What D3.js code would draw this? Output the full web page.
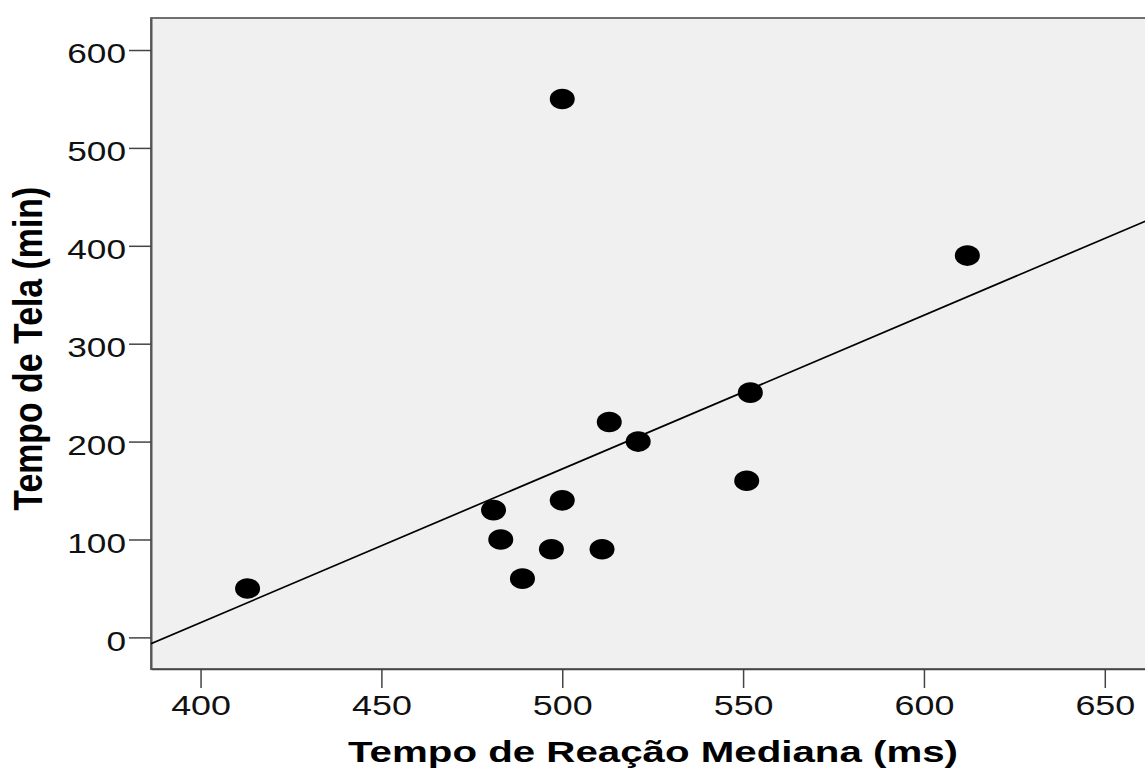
<!DOCTYPE html>
<html>
<head>
<meta charset="utf-8">
<script src="https://cdn.jsdelivr.net/npm/d3@7"></script>
<style>
  html, body { margin: 0; padding: 0; background: #ffffff; }
  svg { display: block; }
</style>
</head>
<body>
<svg id="chart" width="1145" height="769"></svg>
<script>
// ---- data ----
const reactionTime = [413, 500, 612, 513, 521, 481, 500, 483, 497, 511, 489, 552, 551];
const screenTime   = [ 50, 550, 390, 220, 200, 130, 140, 100,  90,  90,  60, 250, 160];
const xTickValues = [400, 450, 500, 550, 600, 650];
const yTickValues = [0, 100, 200, 300, 400, 500, 600];
const xTitle = "Tempo de Reação Mediana (ms)";
const yTitle = "Tempo de Tela (min)";
const xDomain = [386.3, 662.5];
const yDomain = [-32.3, 632.7];

// ---- layout ----
const svg = d3.select("#chart");
const plot = { left: 151, right: 1150, top: 18, bottom: 669 };
const x = d3.scaleLinear().domain(xDomain).range([plot.left, plot.right]);
const y = d3.scaleLinear().domain(yDomain).range([plot.bottom, plot.top]);
const fontFamily = "'Liberation Sans', Arial, Helvetica, sans-serif";

svg.append("defs").append("clipPath").attr("id", "clip")
  .append("rect")
  .attr("x", plot.left).attr("y", plot.top)
  .attr("width", plot.right - plot.left).attr("height", plot.bottom - plot.top);

// plot background
svg.append("rect")
  .attr("x", plot.left).attr("y", plot.top)
  .attr("width", plot.right - plot.left).attr("height", plot.bottom - plot.top)
  .attr("fill", "#f0f0f0")
  .attr("stroke", "#6f6f6f")
  .attr("stroke-width", 2);

// stretch helper for text (reference glyphs are wide)
function stretch(sel, factor) {
  sel.each(function () {
    const w = this.getComputedTextLength();
    d3.select(this).attr("textLength", w * factor).attr("lengthAdjust", "spacingAndGlyphs");
  });
}

// x axis
const xAxis = svg.append("g")
  .attr("transform", `translate(0,${plot.bottom})`)
  .call(d3.axisBottom(x).tickValues(xTickValues).tickSize(19).tickPadding(8).tickSizeOuter(0).tickFormat(d3.format("d")));
xAxis.select(".domain").attr("stroke", "#444").attr("stroke-width", 1.5);
xAxis.selectAll(".tick line").attr("stroke", "#444").attr("stroke-width", 1.5);
xAxis.selectAll(".tick text")
  .attr("font-family", fontFamily).attr("font-size", 28).attr("fill", "#111")
  .attr("dy", null).attr("y", 46);
stretch(xAxis.selectAll(".tick text"), 1.28);

// y axis
const yAxis = svg.append("g")
  .attr("transform", `translate(${plot.left},0)`)
  .call(d3.axisLeft(y).tickValues(yTickValues).tickSize(22).tickPadding(3).tickSizeOuter(0).tickFormat(d3.format("d")));
yAxis.select(".domain").attr("stroke", "#555").attr("stroke-width", 2);
yAxis.selectAll(".tick line").attr("stroke", "#444").attr("stroke-width", 1.5);
yAxis.selectAll(".tick text")
  .attr("font-family", fontFamily).attr("font-size", 27.5).attr("fill", "#111")
  .attr("dy", null).attr("y", 12.7);
stretch(yAxis.selectAll(".tick text"), 1.28);

// regression line (least squares fit of the points)
const mx = d3.mean(reactionTime), my = d3.mean(screenTime);
const sxy = d3.sum(reactionTime, (v, i) => (v - mx) * (screenTime[i] - my));
const sxx = d3.sum(reactionTime, v => (v - mx) * (v - mx));
const slope = sxy / sxx;
const intercept = my - slope * mx;
const fitPts = xDomain.map(v => [v, intercept + slope * v]);
svg.append("path")
  .attr("clip-path", "url(#clip)")
  .attr("d", d3.line().x(d => x(d[0])).y(d => y(d[1]))(fitPts))
  .attr("fill", "none")
  .attr("stroke", "#000")
  .attr("stroke-width", 1.7);

// points
svg.append("g").attr("clip-path", "url(#clip)")
  .selectAll("ellipse")
  .data(reactionTime.map((v, i) => ({ x: v, y: screenTime[i] })))
  .join("ellipse")
  .attr("cx", d => x(d.x))
  .attr("cy", d => y(d.y))
  .attr("rx", 12.5)
  .attr("ry", 10.3)
  .attr("fill", "#000");

// axis titles
svg.append("text")
  .attr("x", 653).attr("y", 762)
  .attr("text-anchor", "middle")
  .attr("font-family", fontFamily).attr("font-weight", "bold").attr("font-size", 30)
  .attr("fill", "#000")
  .attr("textLength", 610).attr("lengthAdjust", "spacingAndGlyphs")
  .text(xTitle);

svg.append("text")
  .attr("transform", "translate(42,348.7) scale(1.38,1) rotate(-90)")
  .attr("text-anchor", "middle")
  .attr("font-family", fontFamily).attr("font-weight", "bold").attr("font-size", 29)
  .attr("fill", "#000")
  .attr("textLength", 324).attr("lengthAdjust", "spacingAndGlyphs")
  .text(yTitle);
</script>
</body>
</html>
